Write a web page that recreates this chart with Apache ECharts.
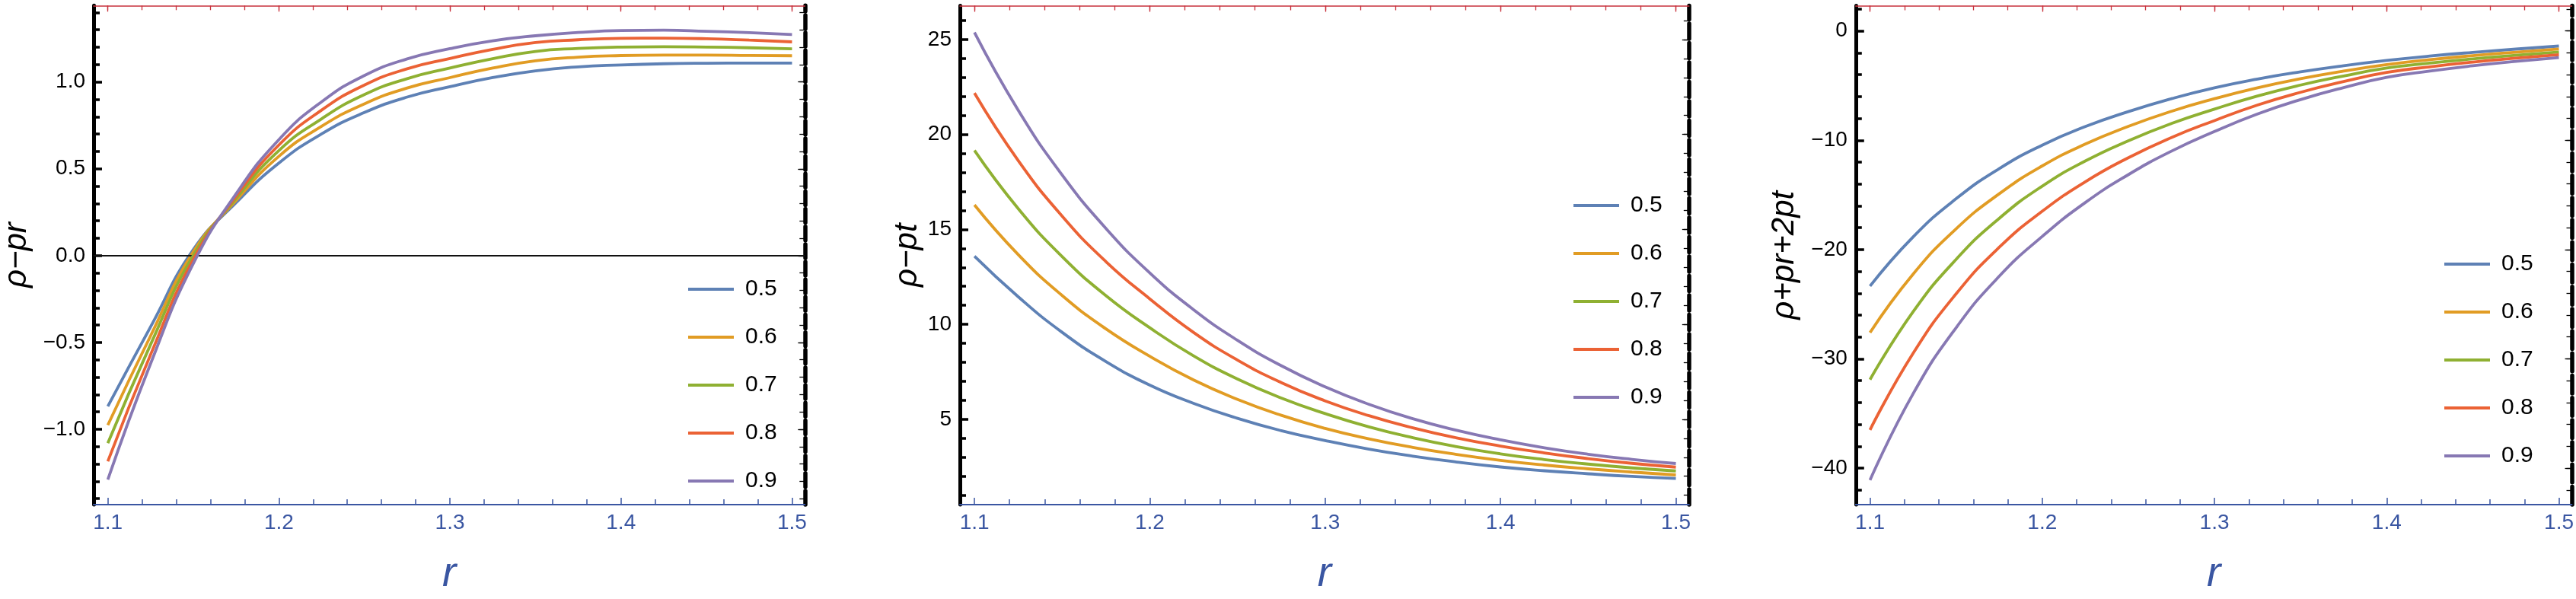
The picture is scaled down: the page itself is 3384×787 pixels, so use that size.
<!DOCTYPE html>
<html><head><meta charset="utf-8">
<script src="https://cdn.jsdelivr.net/npm/echarts@6/dist/echarts.min.js"></script>
<style>html,body{margin:0;padding:0;background:#fff;}#c{width:3384px;height:787px;}</style>
</head><body><div id="c"></div>
<script>
// ---------- data ----------
const seriesNames = ['0.5', '0.6', '0.7', '0.8', '0.9'];
const xMajorTicks = [1.1, 1.2, 1.3, 1.4, 1.5];
const xMinorTicks = [1.1, 1.12, 1.14, 1.16, 1.18, 1.2, 1.22, 1.24, 1.26, 1.28, 1.3, 1.32, 1.34, 1.36, 1.38, 1.4, 1.42, 1.44, 1.46, 1.48, 1.5];

// radial coordinate r (shared by the three panels)
const rVals = [1.100, 1.125, 1.150, 1.175, 1.200, 1.225, 1.250, 1.275, 1.300, 1.325, 1.350, 1.375, 1.400, 1.425, 1.450, 1.475, 1.500];

// panel 1 : rho - pr
const pr_05 = [-0.868, -0.410, 0.035, 0.305, 0.533, 0.701, 0.824, 0.913, 0.973, 1.025, 1.064, 1.087, 1.098, 1.105, 1.108, 1.109, 1.109];
const pr_06 = [-0.976, -0.462, 0.022, 0.318, 0.572, 0.745, 0.874, 0.965, 1.025, 1.080, 1.122, 1.143, 1.152, 1.155, 1.155, 1.153, 1.151];
const pr_07 = [-1.080, -0.512, 0.002, 0.330, 0.605, 0.788, 0.927, 1.019, 1.080, 1.134, 1.176, 1.193, 1.201, 1.203, 1.201, 1.197, 1.191];
const pr_08 = [-1.185, -0.570, -0.022, 0.343, 0.637, 0.838, 0.982, 1.076, 1.135, 1.188, 1.227, 1.243, 1.251, 1.252, 1.249, 1.241, 1.231];
const pr_09 = [-1.290, -0.622, -0.045, 0.356, 0.668, 0.886, 1.037, 1.133, 1.192, 1.237, 1.266, 1.285, 1.296, 1.298, 1.292, 1.284, 1.273];
const yMajor1 = [-1, -0.5, 0, 0.5, 1];
const yMinor1 = [-1.4, -1.3, -1.2, -1.1, -1, -0.9, -0.8, -0.7, -0.6, -0.5, -0.4, -0.3, -0.2, -0.1, 0, 0.1, 0.2, 0.3, 0.4, 0.5, 0.6, 0.7, 0.8, 0.9, 1, 1.1, 1.2, 1.3, 1.4];

// panel 2 : rho - pt
const pt_05 = [13.59, 11.45, 9.58, 8.04, 6.80, 5.84, 5.05, 4.40, 3.88, 3.43, 3.06, 2.75, 2.49, 2.29, 2.13, 1.99, 1.88];
const pt_06 = [16.29, 13.67, 11.52, 9.76, 8.32, 7.07, 6.05, 5.21, 4.52, 3.97, 3.52, 3.15, 2.84, 2.59, 2.39, 2.22, 2.07];
const pt_07 = [19.16, 16.09, 13.57, 11.51, 9.82, 8.34, 7.12, 6.12, 5.30, 4.60, 4.03, 3.56, 3.18, 2.88, 2.64, 2.44, 2.28];
const pt_08 = [22.18, 18.62, 15.70, 13.30, 11.34, 9.57, 8.12, 6.93, 5.97, 5.19, 4.55, 4.02, 3.59, 3.23, 2.93, 2.68, 2.48];
const pt_09 = [25.37, 21.27, 17.87, 15.05, 12.71, 10.77, 9.16, 7.82, 6.71, 5.79, 5.03, 4.42, 3.92, 3.50, 3.16, 2.89, 2.67];
const yMajor2 = [5, 10, 15, 20, 25];
const yMinor2 = [1, 2, 3, 4, 5, 6, 7, 8, 9, 10, 11, 12, 13, 14, 15, 16, 17, 18, 19, 20, 21, 22, 23, 24, 25, 26];

// panel 3 : rho + pr + 2pt
const sec_05 = [-23.35, -18.85, -15.35, -12.6, -10.45, -8.75, -7.38, -6.2, -5.2, -4.4, -3.74, -3.18, -2.7, -2.3, -1.96, -1.66, -1.38];
const sec_06 = [-27.6, -22.25, -18.1, -14.9, -12.35, -10.35, -8.73, -7.35, -6.2, -5.2, -4.37, -3.67, -3.08, -2.63, -2.26, -1.94, -1.65];
const sec_07 = [-31.9, -25.7, -20.9, -17.15, -14.2, -11.9, -10.05, -8.47, -7.15, -5.95, -4.95, -4.12, -3.4, -2.94, -2.56, -2.23, -1.93];
const sec_08 = [-36.5, -29.5, -24.05, -19.8, -16.5, -13.8, -11.6, -9.75, -8.2, -6.78, -5.61, -4.63, -3.8, -3.28, -2.85, -2.49, -2.17];
const sec_09 = [-41.1, -33.2, -27.15, -22.45, -18.8, -15.7, -13.15, -11.0, -9.2, -7.6, -6.28, -5.18, -4.25, -3.67, -3.19, -2.79, -2.44];
const yMajor3 = [-40, -30, -20, -10, 0];
const yMinor3 = [-42, -40, -38, -36, -34, -32, -30, -28, -26, -24, -22, -20, -18, -16, -14, -12, -10, -8, -6, -4, -2, 0, 2];

// ---------- styling ----------
const COLORS = ['#5E81B5', '#E19C24', '#8FB032', '#EB6235', '#8778B3'];
const BLUE = '#3A56A2';
const RED = '#C8323C';
const FONT = 'Liberation Sans';
const XMIN = 1.0917, XMAX = 1.5075;

const panels = [
  { ys: [pr_05, pr_06, pr_07, pr_08, pr_09], yMin: -1.434, yMax: 1.440, major: yMajor1, minor: yMinor1,
    name: 'ρ−pr', nameGap: 80, fmt: v => (v < 0 ? '−' : '') + Math.abs(v).toFixed(1),
    grid: { left: 116, top: 7.3, width: 941.3, height: 665.4 }, dash: [18, 5.15],
    legend: { left: 904, top: 365 }, zeroLine: true },
  { ys: [pt_05, pt_06, pt_07, pt_08, pt_09], yMin: 0.506, yMax: 26.78, major: yMajor2, minor: yMinor2,
    name: 'ρ−pt', nameGap: 48, fmt: v => String(v),
    grid: { left: 1261, top: 7.5, width: 957.8, height: 669.9 }, dash: [20, 5.5],
    legend: { left: 2067, top: 255 }, zeroLine: false },
  { ys: [sec_05, sec_06, sec_07, sec_08, sec_09], yMin: -43.34, yMax: 2.31, major: yMajor3, minor: yMinor3,
    name: 'ρ+pr+2pt', nameGap: 72, fmt: v => (v < 0 ? '−' : '') + Math.abs(v),
    grid: { left: 2437.8, top: 7.5, width: 941.8, height: 666.9 }, dash: [23.5, 5.7],
    legend: { left: 3211, top: 332 }, zeroLine: false }
];

const grids = [], xAxes = [], yAxes = [], series = [], legends = [];
panels.forEach((p, g) => {
  grids.push(Object.assign({ containLabel: false }, p.grid));
  const xb = { type: 'value', gridIndex: g, min: XMIN, max: XMAX, splitLine: { show: false } };
  xAxes.push(Object.assign({}, xb, {
    position: 'bottom',
    axisLine: { show: true, onZero: false, lineStyle: { color: BLUE, width: 2 } },
    axisTick: { show: true, inside: true, length: 9, customValues: xMajorTicks, lineStyle: { color: BLUE, width: 1.5 } },
    axisLabel: { show: true, customValues: xMajorTicks, color: BLUE, fontSize: 28, fontFamily: FONT, margin: 10,
      formatter: v => Number(v).toFixed(1) },
    name: 'r', nameLocation: 'middle', nameGap: 64,
    nameTextStyle: { color: BLUE, fontSize: 55, fontStyle: 'italic', fontFamily: FONT }
  }));
  xAxes.push(Object.assign({}, xb, {
    position: 'bottom', axisLine: { show: false, onZero: false },
    axisTick: { show: true, inside: true, length: 7, customValues: xMinorTicks, lineStyle: { color: BLUE, width: 1.5 } },
    axisLabel: { show: false }
  }));
  xAxes.push(Object.assign({}, xb, {
    position: 'top',
    axisLine: { show: true, onZero: false, lineStyle: { color: RED, width: 1.5 } },
    axisTick: { show: true, inside: true, length: 8, customValues: xMajorTicks, lineStyle: { color: RED, width: 1.3 } },
    axisLabel: { show: false }
  }));
  xAxes.push(Object.assign({}, xb, {
    position: 'top', axisLine: { show: false, onZero: false },
    axisTick: { show: true, inside: true, length: 6, customValues: xMinorTicks, lineStyle: { color: RED, width: 1.3 } },
    axisLabel: { show: false }
  }));

  const yb = { type: 'value', gridIndex: g, min: p.yMin, max: p.yMax, splitLine: { show: false } };
  yAxes.push(Object.assign({}, yb, {
    position: 'left',
    axisLine: { show: true, onZero: false, lineStyle: { color: '#000', width: 5 } },
    axisTick: { show: true, inside: true, length: 11, customValues: p.major, lineStyle: { color: '#000', width: 3.5 } },
    axisLabel: { show: true, customValues: p.major, color: '#000', fontSize: 28, fontFamily: FONT, margin: 11, formatter: p.fmt },
    name: p.name, nameLocation: 'middle', nameGap: p.nameGap, nameRotate: 90,
    nameTextStyle: { color: '#000', fontSize: 42, fontStyle: 'italic', fontFamily: FONT }
  }));
  yAxes.push(Object.assign({}, yb, {
    position: 'left', axisLine: { show: false, onZero: false },
    axisTick: { show: true, inside: true, length: 8, customValues: p.minor, lineStyle: { color: '#000', width: 3.5 } },
    axisLabel: { show: false }
  }));
  yAxes.push(Object.assign({}, yb, {
    position: 'right',
    axisLine: { show: true, onZero: false, lineStyle: { color: '#000', width: 5.5, type: p.dash } },
    axisTick: { show: true, inside: true, length: 9, customValues: p.major, lineStyle: { color: '#000', width: 1.3 } },
    axisLabel: { show: false }
  }));
  yAxes.push(Object.assign({}, yb, {
    position: 'right', axisLine: { show: false, onZero: false },
    axisTick: { show: true, inside: true, length: 7, customValues: p.minor, lineStyle: { color: '#000', width: 1.3 } },
    axisLabel: { show: false }
  }));

  p.ys.forEach((vals, k) => {
    const s = {
      type: 'line', name: seriesNames[k], xAxisIndex: 4 * g, yAxisIndex: 4 * g,
      data: rVals.map((x, i) => [x, vals[i]]),
      color: COLORS[k], showSymbol: false, smooth: 0.5,
      lineStyle: { width: 3.8, color: COLORS[k] }, z: 3 + k, silent: true
    };
    if (p.zeroLine && k === 0) {
      s.markLine = { silent: true, symbol: 'none', label: { show: false }, animation: false,
        lineStyle: { color: '#111', width: 2, type: 'solid' }, data: [{ yAxis: 0 }] };
    }
    series.push(s);
  });

  legends.push({
    data: seriesNames, orient: 'vertical', left: p.legend.left, top: p.legend.top, padding: 0,
    icon: 'rect', itemWidth: 60, itemHeight: 4, itemGap: 33, selectedMode: false,
    textStyle: { color: '#000', fontSize: 30, fontFamily: FONT, lineHeight: 30, padding: [0, 0, 0, 10] }
  });
});

const chart = echarts.init(document.getElementById('c'), null, { renderer: 'canvas' });
chart.setOption({
  animation: false, backgroundColor: '#fff',
  grid: grids, xAxis: xAxes, yAxis: yAxes, series: series, legend: legends
});
</script></body></html>
